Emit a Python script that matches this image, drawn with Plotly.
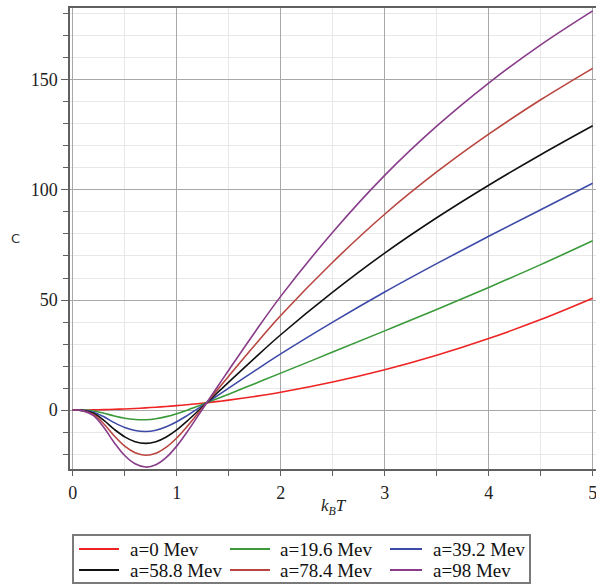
import plotly.graph_objects as go

# k_B T values (x) and heat capacity C readings for each a
T = [0, 0.1, 0.2, 0.3, 0.4, 0.5, 0.6, 0.7, 0.8, 0.9, 1.0, 1.1, 1.2, 1.3, 1.4, 1.5,
     1.75, 2.0, 2.5, 3.0, 3.5, 4.0, 4.5, 5.0]

c_a0 = [0, 0.02, 0.08, 0.18, 0.32, 0.5, 0.72, 0.98, 1.28, 1.62, 2.0, 2.42, 2.88, 3.38,
        3.92, 4.5, 6.15, 8.05, 12.7, 18.3, 24.9, 32.5, 41.1, 50.8]
c_a196 = [0, -0.06, -0.45, -1.45, -2.71, -3.73, -4.31, -4.40, -3.95, -3.01, -1.68, -0.06,
          1.70, 3.52, 5.36, 7.22, 11.97, 16.77, 26.32, 35.97, 45.72, 55.72, 66.07, 76.92]
c_a392 = [0, -0.14, -0.98, -3.08, -5.74, -7.96, -9.34, -9.78, -9.18, -7.64, -5.36, -2.54,
          0.52, 3.66, 6.80, 9.94, 17.79, 25.49, 39.94, 53.64, 66.54, 78.94, 91.04, 103.04]
c_a588 = [0, -0.22, -1.51, -4.71, -8.77, -12.19, -14.37, -15.16, -14.41, -12.27, -9.04,
          -5.02, -0.66, 3.80, 8.24, 12.66, 23.61, 34.21, 53.56, 71.31, 87.36, 102.16,
          116.01, 129.16]
c_a784 = [0, -0.30, -2.04, -6.34, -11.80, -16.42, -19.40, -20.54, -19.64, -16.90, -12.72,
          -7.50, -1.84, 3.94, 9.68, 15.38, 29.43, 42.93, 67.18, 88.98, 108.18, 125.38,
          140.98, 155.28]
c_a98 = [0, -0.38, -2.57, -7.97, -14.83, -20.65, -24.43, -25.92, -24.87, -21.53, -16.40,
         -9.98, -3.02, 4.08, 11.12, 18.10, 35.25, 51.65, 80.80, 106.65, 129.00, 148.60,
         165.95, 181.40]

names = ["a=0 Mev", "a=19.6 Mev", "a=39.2 Mev", "a=58.8 Mev", "a=78.4 Mev", "a=98 Mev"]
series = [c_a0, c_a196, c_a392, c_a588, c_a784, c_a98]
colors = ["#ee2424", "#3a9a3a", "#3d4aa8", "#111111", "#b8453f", "#883c8a"]

x_ticks = [0, 1, 2, 3, 4, 5]
y_ticks = [0, 50, 100, 150]

W, H = 596, 585
L, R, TOP, BOT = 70, 596, 8, 469


def px(x):
    return (x - L) / (R - L)


def py(y):
    return (BOT - y) / (BOT - TOP)


fig = go.Figure()
for name, ys, col in zip(names, series, colors):
    fig.add_trace(go.Scatter(x=T, y=ys, mode="lines", name=name, showlegend=False,
                             line=dict(color=col, width=1.6, shape="spline", smoothing=1.0)))

serif = "'Liberation Serif', 'Times New Roman', 'DejaVu Serif', serif"

# manual legend box (two rows, three columns)
shapes = [dict(type="rect", xref="paper", yref="paper", x0=px(73), x1=px(530),
               y0=py(583), y1=py(535), line=dict(color="#7a7a7a", width=2),
               fillcolor="white", layer="above")]
annotations = []
slots = [(79, 119, 128, 549), (230, 270, 278, 549), (390, 422, 431, 549),
         (79, 119, 128, 570), (230, 270, 278, 570), (390, 422, 431, 570)]
for (lx0, lx1, tx, ry), name, col in zip(slots, names, colors):
    shapes.append(dict(type="line", xref="paper", yref="paper", x0=px(lx0), x1=px(lx1),
                       y0=py(ry), y1=py(ry), line=dict(color=col, width=2), layer="above"))
    annotations.append(dict(text=name, xref="paper", yref="paper", x=px(tx), y=py(ry),
                            xanchor="left", yanchor="middle", showarrow=False,
                            font=dict(family=serif, size=19, color="#111111")))

annotations.append(dict(text="C", xref="paper", yref="paper", x=px(15), y=py(238),
                        xanchor="center", yanchor="middle", showarrow=False,
                        font=dict(family="DejaVu Sans", size=13, color="#333333")))
annotations.append(dict(text="<i>k</i><sub><i>B</i></sub><i>T</i>", xref="paper",
                        yref="paper", x=px(334), y=py(507), xanchor="center",
                        yanchor="middle", showarrow=False,
                        font=dict(family=serif, size=17, color="#222222")))

fig.update_layout(
    width=W, height=H,
    margin=dict(l=L, r=W - R, t=TOP, b=H - BOT),
    paper_bgcolor="white", plot_bgcolor="white",
    font=dict(family=serif, size=18, color="#222222"),
    showlegend=False,
    xaxis=dict(range=[-0.026, 5.032], tickvals=x_ticks, ticktext=[str(v) for v in x_ticks],
               showgrid=True, gridcolor="#a8a8a8", gridwidth=1,
               minor=dict(dtick=0.5, showgrid=True, gridcolor="#e8e8e8", ticks="outside",
                          ticklen=5, tickcolor="#606060"),
               ticks="outside", ticklen=5, tickcolor="#606060", ticklabelstandoff=2,
               ticklabeloverflow="allow",
               showline=True, linecolor="#606060", linewidth=1.5, mirror=True,
               zeroline=False),
    yaxis=dict(range=[-26.8, 182.7], tickvals=y_ticks, ticktext=[str(v) for v in y_ticks],
               showgrid=True, gridcolor="#a8a8a8", gridwidth=1,
               minor=dict(dtick=10, showgrid=True, gridcolor="#e8e8e8", ticks="outside",
                          ticklen=5, tickcolor="#606060"),
               ticks="outside", ticklen=7, tickcolor="#606060",
               showline=True, linecolor="#606060", linewidth=1.5,
               zeroline=False),
    shapes=shapes,
    annotations=annotations,
)

fig.write_html("out.html")
